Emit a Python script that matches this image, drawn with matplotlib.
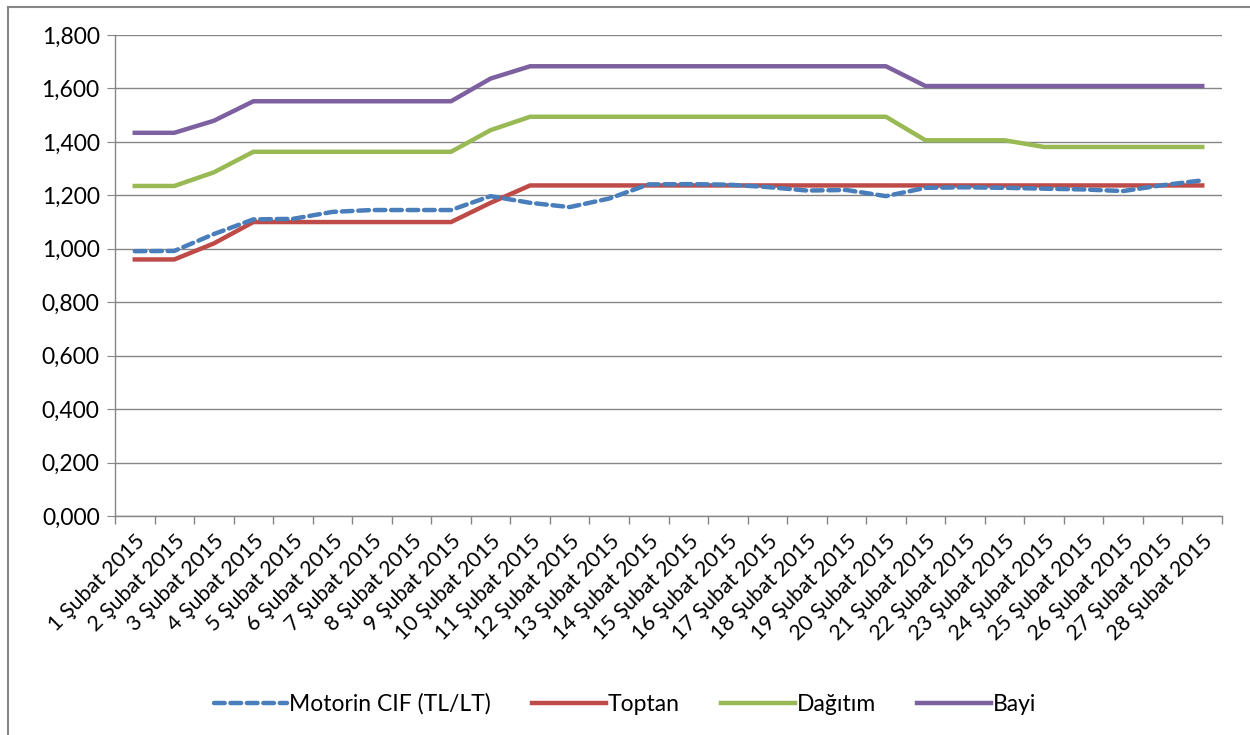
import numpy as np
import matplotlib
matplotlib.use('Agg')
import matplotlib.pyplot as plt
from matplotlib.patches import Rectangle
from matplotlib.ticker import FuncFormatter, FixedLocator

plt.rcParams['font.family'] = ['Lato', 'DejaVu Sans']

days = [f"{d} Şubat 2015" for d in range(1, 29)]

motorin_cif = [0.991, 0.992, 1.055, 1.110, 1.112, 1.138, 1.145, 1.145, 1.145, 1.197,
               1.172, 1.156, 1.188, 1.241, 1.242, 1.240, 1.231, 1.218, 1.220, 1.197,
               1.228, 1.230, 1.228, 1.225, 1.222, 1.216, 1.238, 1.256]
toptan = [0.960, 0.960, 1.020, 1.100, 1.100, 1.100, 1.100, 1.100, 1.100, 1.172,
          1.237, 1.237, 1.237, 1.237, 1.237, 1.237, 1.237, 1.237, 1.237, 1.237,
          1.237, 1.237, 1.237, 1.237, 1.237, 1.237, 1.237, 1.237]
dagitim = [1.235, 1.235, 1.286, 1.363, 1.363, 1.363, 1.363, 1.363, 1.363, 1.444,
           1.494, 1.494, 1.494, 1.494, 1.494, 1.494, 1.494, 1.494, 1.494, 1.494,
           1.406, 1.406, 1.406, 1.381, 1.381, 1.381, 1.381, 1.381]
bayi = [1.434, 1.434, 1.479, 1.552, 1.552, 1.552, 1.552, 1.552, 1.552, 1.637,
        1.683, 1.683, 1.683, 1.683, 1.683, 1.683, 1.683, 1.683, 1.683, 1.683,
        1.609, 1.609, 1.609, 1.609, 1.609, 1.609, 1.609, 1.609]

fig = plt.figure(figsize=(12.5, 7.35), dpi=100)
# outer chart border (cut off at right/bottom in the reference)
fig.patches.append(Rectangle((8 / 1250, -0.05), 1.1, 1 - 7 / 735 + 0.05,
                             transform=fig.transFigure, fill=False,
                             edgecolor='#868686', linewidth=1.5))

ax = fig.add_axes([115 / 1250, 1 - 516 / 735, (1222 - 115) / 1250, (516 - 35) / 735])
x = np.arange(len(days))

ax.plot(x, motorin_cif, color='#4A7EBB', lw=3.2, ls=(0, (2.4, 1.3)),
        dash_capstyle='round', label='Motorin CIF (TL/LT)', zorder=4)
ax.plot(x, toptan, color='#BE4B48', lw=3.2, label='Toptan', zorder=3)
ax.plot(x, dagitim, color='#98B954', lw=3.2, label='Dağıtım', zorder=3)
ax.plot(x, bayi, color='#7D60A0', lw=3.2, label='Bayi', zorder=3)

ax.set_xlim(-0.5, len(days) - 0.5)
ax.set_ylim(0, 1.8)
ax.set_yticks(np.arange(0, 1.81, 0.2))
ax.yaxis.set_major_formatter(FuncFormatter(lambda v, p: f"{v:.3f}".replace('.', ',')))
ax.grid(axis='y', color='#868686', lw=1)
ax.set_axisbelow(True)

ax.xaxis.set_major_locator(FixedLocator(np.arange(-0.5, len(days), 1)))
ax.xaxis.set_minor_locator(FixedLocator(x))
ax.set_xticklabels([])
ax.set_xticks(x, minor=True)
ax.set_xticklabels(days, minor=True, rotation=45, ha='right', va='top',
                   rotation_mode='anchor', fontsize=15.5)
ax.tick_params(axis='x', which='major', length=6, color='#868686', width=1)
ax.tick_params(axis='x', which='minor', length=0, pad=11)
ax.tick_params(axis='y', length=6, color='#868686', labelsize=16.5, pad=5)

for s in ['top', 'right']:
    ax.spines[s].set_visible(False)
for s in ['left', 'bottom']:
    ax.spines[s].set_color('#868686')
    ax.spines[s].set_linewidth(1)

fig.legend(loc='center', bbox_to_anchor=(0.5, 1 - 704 / 735), ncol=4,
           frameon=False, fontsize=16.5, handlelength=3.2, handletextpad=0.1,
           columnspacing=1.8)

fig.savefig('out.png', dpi=100)
